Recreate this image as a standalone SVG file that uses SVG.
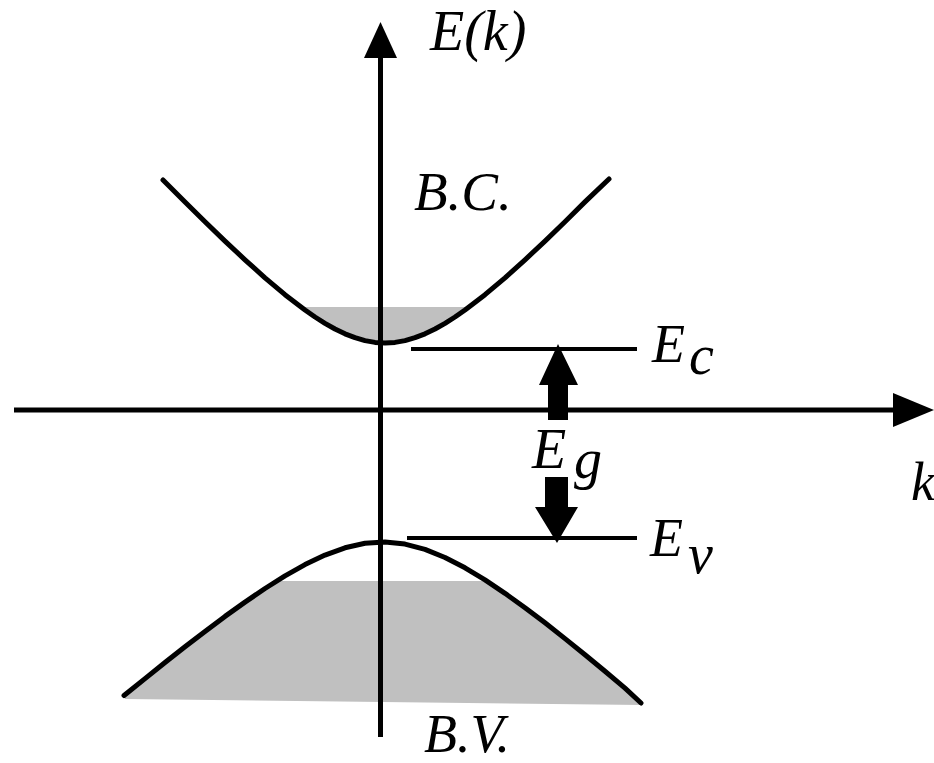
<svg xmlns="http://www.w3.org/2000/svg" width="934" height="763" viewBox="0 0 934 763">
<style>
.t{font-family:"Liberation Serif","Times New Roman",serif;font-style:italic;fill:#000}
.curve{fill:none;stroke:#000;stroke-width:5;stroke-linejoin:round;stroke-linecap:round}
.fill{fill:#c0c0c0;stroke:none}
.ax{stroke:#000;stroke-width:5;fill:none}
.lvl{stroke:#000;stroke-width:4;fill:none}
</style>
<rect width="934" height="763" fill="#fff"/>
<g id="conduction-band">
<path class="fill" d="M301,307 L469,307 L465,310 L455,317 L445,323.3 L435,329 L425,333.8 L415,337.7 L405,340.6 L395,342.4 L385,343 L375,342.4 L365,340.6 L355,337.7 L345,333.8 L335,329 L325,323.3 L315,317 L305,310 Z"/>
<polyline class="curve" points="163,180 185,201.9 205,221.7 225,241.1 245,259.8 265,277.8 285,294.7 305,310 315,317 325,323.3 335,329 345,333.8 355,337.7 365,340.6 375,342.4 385,343 395,342.4 405,340.6 415,337.7 425,333.8 435,329 445,323.3 455,317 465,310 485,294.7 505,277.8 525,259.8 545,241.1 565,221.7 585,201.9 609,179"/>
</g>
<g id="valence-band">
<path class="fill" d="M276,581 L487,581 L505,593.3 L525,607.7 L545,622.8 L565,638.6 L585,654.8 L605,671.3 L625,688.2 L642,703 L642,705 L125,699 L125,694.8 L145,678.6 L165,662.5 L185,646.8 L205,631.4 L225,616.4 L245,602.1 L265,588.5 Z"/>
<polyline class="curve" points="124,695.5 145,678.6 165,662.5 185,646.8 205,631.4 225,616.4 245,602.1 265,588.5 285,575.9 305,564.6 325,555.1 345,547.8 365,543.3 385,542 405,544.1 425,549.4 445,557.5 465,567.8 485,579.9 505,593.3 525,607.7 545,622.8 565,638.6 585,654.8 605,671.3 625,688.2 641,703"/>
</g>
<g id="connectors">
<line class="ax" x1="380.5" y1="737" x2="380.5" y2="50"/>
<polygon points="380.5,22 364,58 397,58" fill="#000"/>
<line class="ax" x1="14" y1="410" x2="900" y2="410"/>
<polygon points="934,410 893,393 893,427" fill="#000"/>
<polygon points="558,344 539,385 548,385 548,420 568,420 568,385 578,385" fill="#000"/>
<polygon points="557,543 535,507 545,507 545,477 568,477 568,507 578,507" fill="#000"/>
</g>
<g id="level-Ec">
<line class="lvl" x1="411" y1="349" x2="637" y2="349"/>
<text class="t" x="652" y="362" font-size="54">E</text>
<text class="t" x="689" y="374" font-size="56">c</text>
</g>
<g id="level-Ev">
<line class="lvl" x1="407" y1="538" x2="637" y2="538"/>
<text class="t" x="650" y="556" font-size="54">E</text>
<text class="t" x="688" y="573" font-size="56">v</text>
</g>
<g id="label-Eg">
<text class="t" x="532" y="468" font-size="56">E</text>
<text class="t" x="574" y="478" font-size="56">g</text>
</g>
<g id="label-Ek"><text class="t" x="430" y="50" font-size="56">E(k)</text></g>
<g id="label-BC"><text class="t" x="414" y="210" font-size="55">B.C.</text></g>
<g id="label-BV"><text class="t" x="424" y="752" font-size="54">B.V.</text></g>
<g id="label-k"><text class="t" x="911" y="500" font-size="54">k</text></g>
</svg>
